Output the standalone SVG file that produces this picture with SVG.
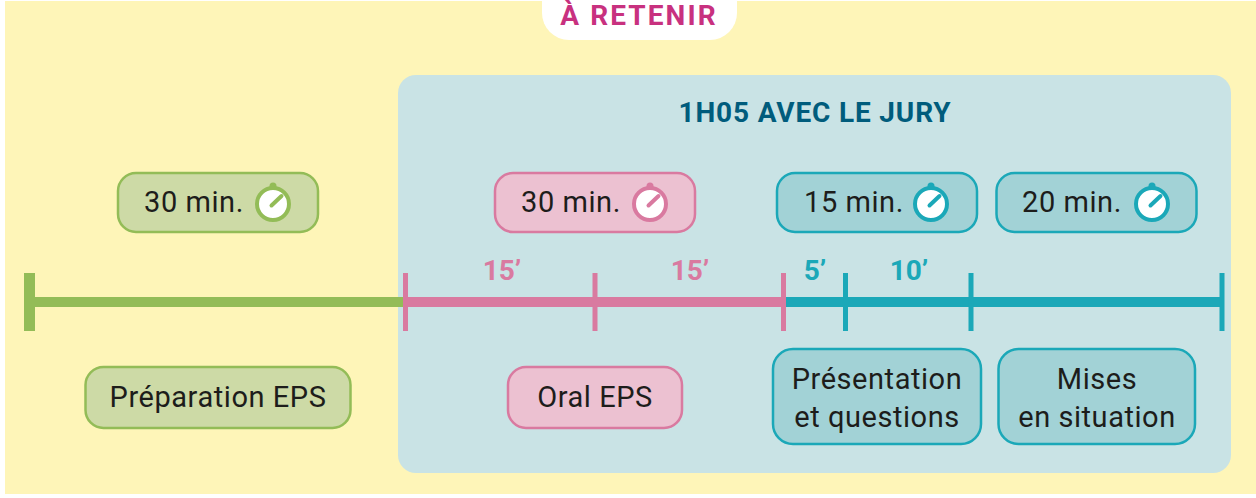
<svg xmlns="http://www.w3.org/2000/svg" width="1256" height="498" viewBox="0 0 1256 498">
<style>
.t{font-family:Roboto,"Liberation Sans",sans-serif;font-size:29px;fill:#1d1d1b;text-anchor:middle;letter-spacing:.55px}
.b{font-family:Roboto,"Liberation Sans",sans-serif;font-weight:700;text-anchor:middle}
.n{stroke-width:2.5}
.g{fill:#cddaa6;stroke:#93bc57}.p{fill:#ecc1d1;stroke:#d97aa0}.c{fill:#a2d2d6;stroke:#1ba8b8}
.w{fill:#fff;stroke-width:4}.h{fill:none;stroke-width:4;stroke-linecap:round}
.sg{stroke:#93bc57}.sp{stroke:#d97aa0}.sc{stroke:#1ba8b8}
.tick{stroke-width:5}.bar{stroke-width:10}
</style>
<defs>
<g id="watch">
<circle cx="0" cy="-18" r="3.500" fill="currentColor"/>
<circle cx="0" cy="0" r="16" class="w" stroke="currentColor"/>
<path d="M-1.500 1.500L8.500 -8" class="h" stroke="currentColor"/>
</g>
</defs>
<rect width="1256" height="498" fill="#fff"/>
<rect x="5" y="1" width="1251" height="493" fill="#fef5b8"/>
<g id="title"><path d="M542 1H737V13A27 27 0 0 1 710 40H569A27 27 0 0 1 542 13Z" fill="#fff"/>
<text x="639" y="25" class="b" font-size="28" fill="#c8317f" letter-spacing="2.100">À RETENIR</text></g>
<g id="jury"><rect x="398" y="75" width="833" height="398" rx="18" fill="#c9e3e5"/>
<text x="815" y="122" class="b" font-size="28" fill="#005c7c" letter-spacing="0.850">1H05 AVEC LE JURY</text></g>
<g id="connectors">
<path class="bar sg" d="M30 302H405"/>
<path class="tick sg" d="M29.500 273V331" style="stroke-width:11"/>
<path class="bar sp" d="M405 302H784"/>
<path class="bar sc" d="M784 302H1222"/>
<path class="tick sp" d="M405.500 273V331M595 273V331M783.500 273V331"/>
<path class="tick sc" d="M845.500 273V331M971 273V331M1222 273V331"/>
</g>
<g id="d1" color="#93bc57"><rect class="n g" x="118" y="173" width="200" height="59" rx="18"/><text class="t" x="194" y="212">30 min.</text><use href="#watch" x="273" y="204"/></g>
<g id="d2" color="#d97aa0"><rect class="n p" x="495" y="173" width="200" height="59" rx="18"/><text class="t" x="571" y="212">30 min.</text><use href="#watch" x="650" y="204"/></g>
<g id="d3" color="#1ba8b8"><rect class="n c" x="777" y="173" width="200" height="59" rx="18"/><text class="t" x="854" y="212">15 min.</text><use href="#watch" x="931" y="204"/></g>
<g id="d4" color="#1ba8b8"><rect class="n c" x="996.500" y="173" width="200" height="59" rx="18"/><text class="t" x="1072" y="212">20 min.</text><use href="#watch" x="1152" y="204"/></g>
<g id="m1" class="b" font-size="28" fill="#d97aa0"><text x="502" y="280">15’</text><text x="690" y="280">15’</text></g>
<g id="m2" class="b" font-size="28" fill="#1ba8b8"><text x="815" y="280">5’</text><text x="909" y="280">10’</text></g>
<g id="l1"><rect class="n g" x="85.500" y="367" width="265" height="61" rx="18"/><text class="t" x="218" y="407">Préparation EPS</text></g>
<g id="l2"><rect class="n p" x="508" y="367" width="174" height="61" rx="18"/><text class="t" x="595" y="407">Oral EPS</text></g>
<g id="l3"><rect class="n c" x="773" y="349" width="208" height="95" rx="20"/><text class="t" x="877" y="389">Présentation</text><text class="t" x="877" y="427">et questions</text></g>
<g id="l4"><rect class="n c" x="998.500" y="349" width="196.500" height="95" rx="20"/><text class="t" x="1097" y="389">Mises</text><text class="t" x="1097" y="427">en situation</text></g>
</svg>
